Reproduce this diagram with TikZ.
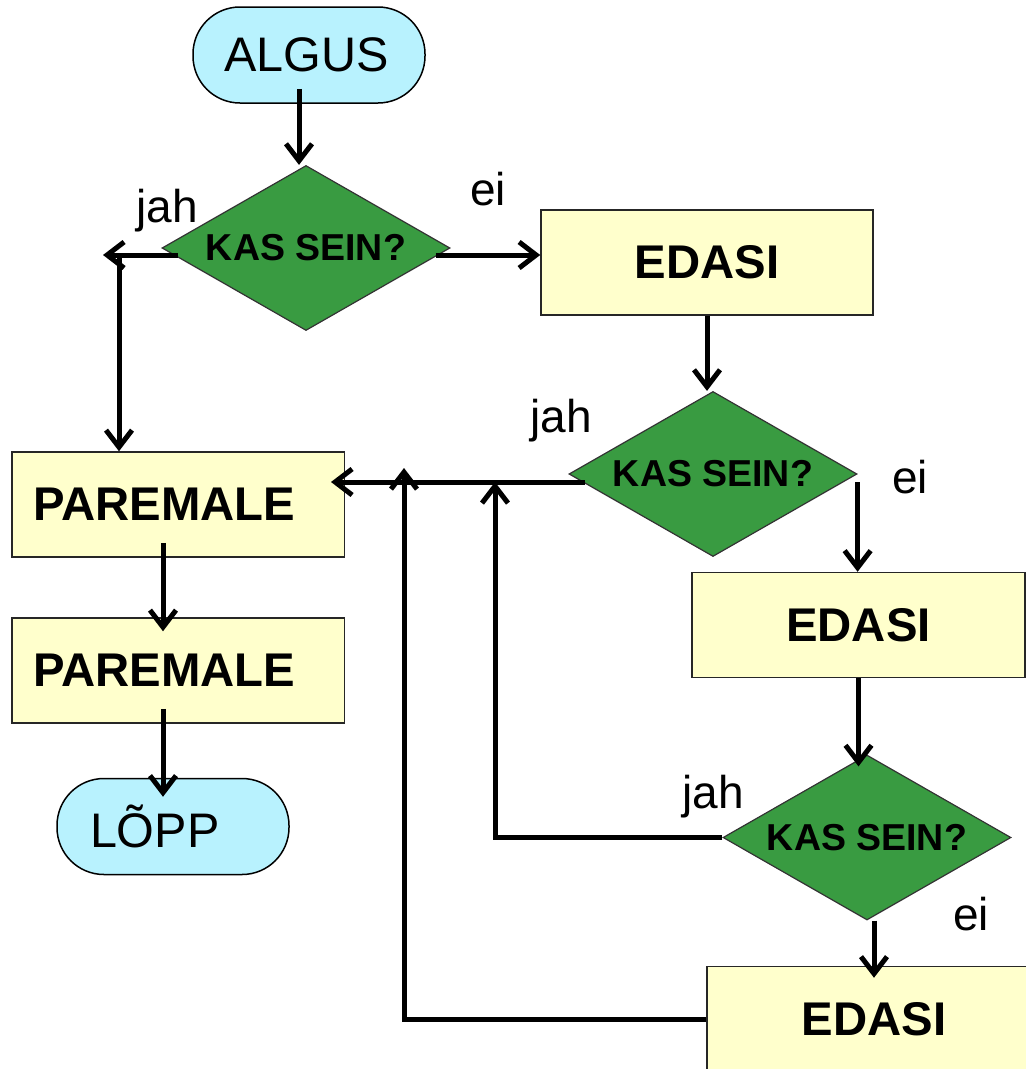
\documentclass[tikz,border=0pt]{standalone}
\usepackage{fontspec}
\setmainfont{Liberation Sans}
\usetikzlibrary{shapes.geometric,arrows.meta,calc}
\definecolor{termfill}{RGB}{184,242,254}
\definecolor{boxfill}{RGB}{255,255,204}
\definecolor{decfill}{RGB}{57,155,65}

\begin{document}
\begin{tikzpicture}[x=1pt,y=-1pt,
  terminal/.style={draw=black, line width=1.5pt, fill=termfill, rounded corners=47pt,
    minimum height=96pt, align=left, font=\fontsize{48.5}{52}\selectfont},
  process/.style={draw=black!85, line width=1.5pt, fill=boxfill, minimum height=105pt,
    font=\bfseries\fontsize{47.3}{52}\selectfont},
  decision/.style={diamond, aspect=1.745, draw=black!80, line width=1.2pt, fill=decfill,
    minimum width=288pt, minimum height=165pt, inner sep=0pt,
    font=\bfseries\fontsize{37.5}{40}\selectfont},
  lbl/.style={anchor=base, font=\fontsize{46}{50}\selectfont},
  arr/.style={line width=5pt, -{Straight Barb[length=17pt,width=26pt]}}]

\useasboundingbox (0,0) rectangle (1026,1069);
\clip (0,0) rectangle (1026,1069);

% start / end
\node[terminal, text width=170pt, inner xsep=31pt] (algus) at (309,55) {ALGUS};
\node[terminal, text width=166pt, inner xsep=33pt] (lopp) at (173,826.5) {LÕPP};

% decisions
\node[decision] (d1) at (306,248) {KAS SEIN?};
\node[decision] (d2) at (713,474) {KAS SEIN?};
\node[decision] (d3) at (867,837.5) {KAS SEIN?};

% process boxes
\node[process, minimum width=332pt] (e1) at (707,262.5) {EDASI};
\node[process, minimum width=333pt] (e2) at (858.5,625) {EDASI};
\node[process, minimum width=334pt] (e3) at (874,1019) {EDASI};
\node[process, text width=289.5pt, inner xsep=21.5pt, align=left] (p1) at (178,504.5) {PAREMALE};
\node[process, text width=289.5pt, inner xsep=21.5pt, align=left] (p2) at (178,670.5) {PAREMALE};

% branch points
\coordinate (j1) at (119,255);
\coordinate (m1) at (495,482);
\coordinate (m2) at (404,468);

% connectors
\draw[arr] ([xshift=-10pt,yshift=15pt]algus.south) -- ([xshift=-7pt]d1.north);
\draw[arr] ([xshift=17pt,yshift=-7pt]d1.west) -- ([xshift=-16pt]j1);
\draw[arr] (j1) -- (j1 |- p1.north);
\draw[arr] ([xshift=-15pt,yshift=-7pt]d1.east) -- (e1.west |- j1);
\draw[arr] (e1.south) -- (e1.south |- d2.north);
\draw[arr] ([xshift=17pt,yshift=-8pt]d2.west) -- ($(p1.east |- m1)+(-14,0)$);
\draw[arr] ([yshift=-8pt]d2.east) -- (d2.east |- e2.north);
\draw[arr] (e2.south) -- ($(e2.south |- d3.north)+(0,12)$);
\draw[arr] (d3.west) -| (m1);
\draw[arr] (e3.north |- d3.south) -- ($(e3.north)+(0,12)$);
\draw[arr] (e3.west) -| (m2);
\draw[arr] ([xshift=-15pt,yshift=15pt]p1.south) -- ([xshift=-15pt,yshift=-14pt]p2.north);
\draw[arr] ([xshift=-15pt,yshift=15pt]p2.south) -- ([xshift=-10pt,yshift=-19pt]lopp.north);

% branch labels
\node[lbl] (l1) at (167,222) {jah};
\node[lbl] (l2) at (488,205) {ei};
\node[lbl] (l3) at (561,432) {jah};
\node[lbl] (l4) at (910,493) {ei};
\node[lbl] (l5) at (713,808) {jah};
\node[lbl] (l6) at (971,930) {ei};
\end{tikzpicture}
\end{document}
